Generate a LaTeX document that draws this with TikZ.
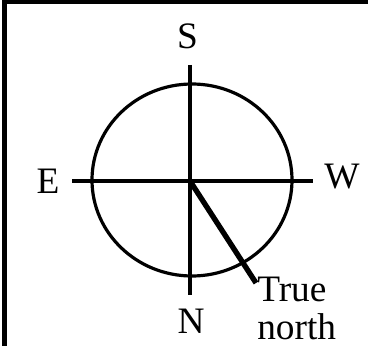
\documentclass[tikz,border=0pt]{standalone}
\usepackage{fontspec}
\setmainfont{Liberation Serif}

\begin{document}
\begin{tikzpicture}[x=0.75pt, y=-0.75pt,
    lbl/.style={font=\fontsize{28}{28.5}\selectfont, inner sep=0pt},
    axis/.style={line width=2.6pt},
    ring/.style={line width=2.4pt},
    pointer/.style={line width=4pt}]
    \useasboundingbox (0,0) rectangle (368,346);
    \draw[line width=3.5pt] (4.5,346) -- (4.5,2) -- (368,2);

    \coordinate (o) at (190,181);
    \coordinate (top) at (190,65);
    \coordinate (bot) at (190,295);
    \coordinate (lft) at (72,181);
    \coordinate (rgt) at (313,181);
    \coordinate (tip) at (256,283);

    \node[lbl, anchor=base] (s) at (187.5,49) {S};
    \node[lbl, anchor=base] (n) at (191,333) {N};
    \node[lbl, anchor=base] (e) at (48,193) {E};
    \node[lbl, anchor=base] (w) at (342,188) {W};
    \node[lbl, align=left, anchor=north west] (tn) at (257,277) {True\\north};

    \draw[ring] (192,180) ellipse [x radius=100, y radius=96];
    \draw[axis] (top) -- (bot);
    \draw[axis] (lft) -- (rgt);
    \draw[pointer] (o) -- (tip);
\end{tikzpicture}
\end{document}
